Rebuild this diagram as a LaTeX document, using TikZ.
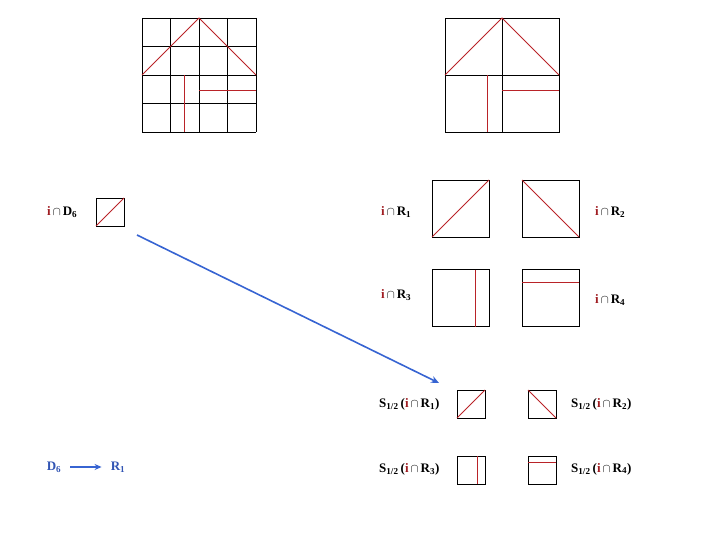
\documentclass[tikz,border=0pt]{standalone}
\usepackage{fontspec}
\setmainfont{Liberation Serif}
\usetikzlibrary{arrows.meta}
\definecolor{ired}{RGB}{160,30,35}
\definecolor{lred}{RGB}{185,35,40}
\definecolor{ablue}{RGB}{55,100,210}
\definecolor{tblue}{RGB}{50,85,180}
\newcommand{\ii}{{\color{ired}i}}
\newcommand{\capx}{$\,\cap\,$}
\tikzset{
  blk/.style={draw=black, line width=0.9pt},
  rl/.style={draw=lred, line width=0.8pt},
  lbl/.style={font=\bfseries\fontsize{13}{15}\selectfont, inner sep=1pt},
  blbl/.style={lbl, text=tblue},
  sq/.style={draw=black, line width=0.9pt, minimum size=#1, inner sep=0pt, outer sep=0pt},
  barrow/.style={draw=ablue, line width=1.6pt, -{Stealth[length=8pt,width=7pt]}}
}
\begin{document}
\begin{tikzpicture}[x=1pt,y=-1pt]
\useasboundingbox (0,0) rectangle (720,540);
% top-left 4x4 grid
\foreach \k in {0,1,2,3,4}{
  \draw[blk] ({142+28.5*\k},18) -- ({142+28.5*\k},132);
  \draw[blk] (142,{18+28.5*\k}) -- (256,{18+28.5*\k});
}
\draw[rl] (142,75) -- (199,18) -- (256,75);
\draw[rl] (184,75) -- (184,132);
\draw[rl] (199,90) -- (256,90);
% top-right 2x2 grid
\draw[blk] (445,18) rectangle (559,132);
\draw[blk] (502,18) -- (502,132);
\draw[blk] (445,75) -- (559,75);
\draw[rl] (445,75) -- (502,18) -- (559,75);
\draw[rl] (487,75) -- (487,132);
\draw[rl] (502,90) -- (559,90);
% i cap D6
\node[lbl, anchor=west] (lD) at (46,212) {\ii\capx D\textsubscript{6}};
\node[sq=28pt] (sD) at (110,212) {};
\draw[rl] (sD.south west) -- (sD.north east);
% R1..R4
\node[sq=57pt] (s1) at (460.5,208.5) {};
\draw[rl] (s1.south west) -- (s1.north east);
\node[sq=57pt] (s2) at (550.5,208.5) {};
\draw[rl] (s2.north west) -- (s2.south east);
\node[sq=57pt] (s3) at (460.5,298) {};
\draw[rl] ([xshift=43pt]s3.north west) -- ([xshift=43pt]s3.south west);
\node[sq=57pt] (s4) at (550.5,298) {};
\draw[rl] ([yshift=-13pt]s4.north west) -- ([yshift=-13pt]s4.north east);
\node[lbl, anchor=west] (l1) at (380,212) {\ii\capx R\textsubscript{1}};
\node[lbl, anchor=west] (l2) at (594,212) {\ii\capx R\textsubscript{2}};
\node[lbl, anchor=west] (l3) at (380,295) {\ii\capx R\textsubscript{3}};
\node[lbl, anchor=west] (l4) at (594,300) {\ii\capx R\textsubscript{4}};
% S squares
\node[sq=28pt] (t1) at (471,404) {};
\draw[rl] (t1.south west) -- (t1.north east);
\node[sq=28pt] (t2) at (542,404) {};
\draw[rl] (t2.north west) -- (t2.south east);
\node[sq=28pt] (t3) at (471,470) {};
\draw[rl] ([xshift=20pt]t3.north west) -- ([xshift=20pt]t3.south west);
\node[sq=28pt] (t4) at (542,470) {};
\draw[rl] ([yshift=-6pt]t4.north west) -- ([yshift=-6pt]t4.north east);
\node[lbl, anchor=west] (m1) at (378,404) {S\textsubscript{1/2}\,(\ii\capx R\textsubscript{1})};
\node[lbl, anchor=west] (m2) at (570,404) {S\textsubscript{1/2}\,(\ii\capx R\textsubscript{2})};
\node[lbl, anchor=west] (m3) at (378,469) {S\textsubscript{1/2}\,(\ii\capx R\textsubscript{3})};
\node[lbl, anchor=west] (m4) at (570,469) {S\textsubscript{1/2}\,(\ii\capx R\textsubscript{4})};
% big blue arrow
\coordinate (a0) at (137,235);
\coordinate (a1) at (439,383);
\draw[barrow] (a0) -- (a1);
% bottom-left D6 -> R1
\node[blbl] (bD) at (54,467) {D\textsubscript{6}};
\node[blbl] (bR) at (118,467) {R\textsubscript{1}};
\draw[draw=ablue, line width=1.4pt, -{Stealth[length=7pt,width=6pt]}] ([xshift=8pt]bD.east) -- ([xshift=-8pt]bR.west);
\end{tikzpicture}
\end{document}
